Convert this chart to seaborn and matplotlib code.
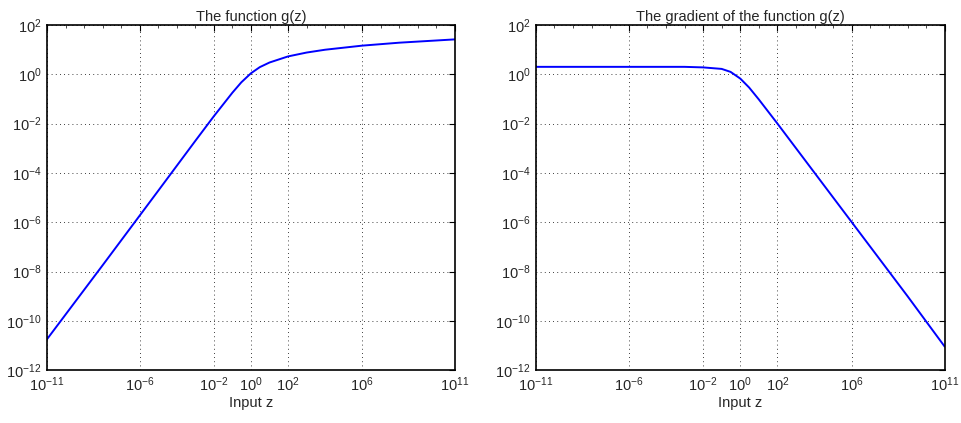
import matplotlib
matplotlib.use("Agg")
import matplotlib.pyplot as plt
import matplotlib.ticker as mticker
import pandas as pd
import seaborn as sns

# Sampled values of g(z) and its gradient on a log grid
z_func = [1e-11, 1e-8, 1e-5, 1e-3, 1e-2, 1e-1, 3e-1, 1e0, 3e0, 1e1,
          1e2, 1e3, 1e4, 1e6, 1e8, 1e11]
g_vals = [1.8e-11, 1.8e-8, 1.9e-5, 2e-3, 2e-2, 0.18, 0.47, 1.1, 1.95, 3.0,
          5.3, 7.6, 9.9, 14.5, 19.1, 26.0]

z_grad = [1e-11, 1e-6, 1e-3, 6e-3, 1e-2, 1e-1, 3e-1, 1e0, 3e0, 1e1,
          1e2, 1e3, 1e6, 1e9, 1e11]
dg_vals = [2.0, 2.0, 2.0, 1.92, 1.9, 1.65, 1.25, 0.67, 0.29, 0.095,
           0.01, 1e-3, 1e-6, 1e-9, 9e-12]

x_ticks = [1e-11, 1e-6, 1e-2, 1e0, 1e2, 1e6, 1e11]
y_ticks = [1e-12, 1e-10, 1e-8, 1e-6, 1e-4, 1e-2, 1e0, 1e2]
titles = ["The function g(z)", "The gradient of the function g(z)"]
x_label = "Input z"

sns.set_style("white")
plt.rcParams["font.family"] = ["Liberation Sans", "DejaVu Sans"]
plt.rcParams["mathtext.fontset"] = "custom"
plt.rcParams["mathtext.rm"] = "Liberation Sans"
plt.rcParams["mathtext.it"] = "Liberation Sans:italic"

fig = plt.figure(figsize=(9.62, 4.23), dpi=100)
ax1 = fig.add_axes([0.0489, 0.125, 0.424, 0.816])
ax2 = fig.add_axes([0.557, 0.125, 0.425, 0.816])

df_f = pd.DataFrame({"z": z_func, "g": g_vals})
df_g = pd.DataFrame({"z": z_grad, "dg": dg_vals})

sns.lineplot(data=df_f, x="z", y="g", ax=ax1, color=(0, 0, 1), lw=1.4)
sns.lineplot(data=df_g, x="z", y="dg", ax=ax2, color=(0, 0, 1), lw=1.4)

for ax, title in zip((ax1, ax2), titles):
    ax.set_xscale("log")
    ax.set_yscale("log")
    ax.set_xlim(1e-11, 1e11)
    ax.set_ylim(1e-12, 1e2)
    ax.set_xticks(x_ticks)
    ax.set_yticks(y_ticks)
    ax.xaxis.set_minor_locator(mticker.LogLocator(base=10, subs=(1.0,), numticks=40))
    ax.yaxis.set_minor_locator(mticker.NullLocator())
    ax.xaxis.set_minor_formatter(mticker.NullFormatter())
    ax.tick_params(which="both", direction="in", top=True, right=True,
                   color="black", labelsize=10.5, pad=4)
    ax.tick_params(which="major", length=4, width=0.8)
    ax.tick_params(which="minor", length=2, width=0.5)
    ax.grid(True, which="major", linestyle=(0, (1, 4)), color="black", lw=0.6)
    for sp in ax.spines.values():
        sp.set_visible(True)
        sp.set_color("black")
        sp.set_linewidth(1.2)
    ax.set_title(title, fontsize=10.5, pad=3)
    ax.set_xlabel(x_label, fontsize=10.5, labelpad=1)
    ax.set_ylabel("")

fig.savefig("out.png", dpi=100, facecolor="white")
